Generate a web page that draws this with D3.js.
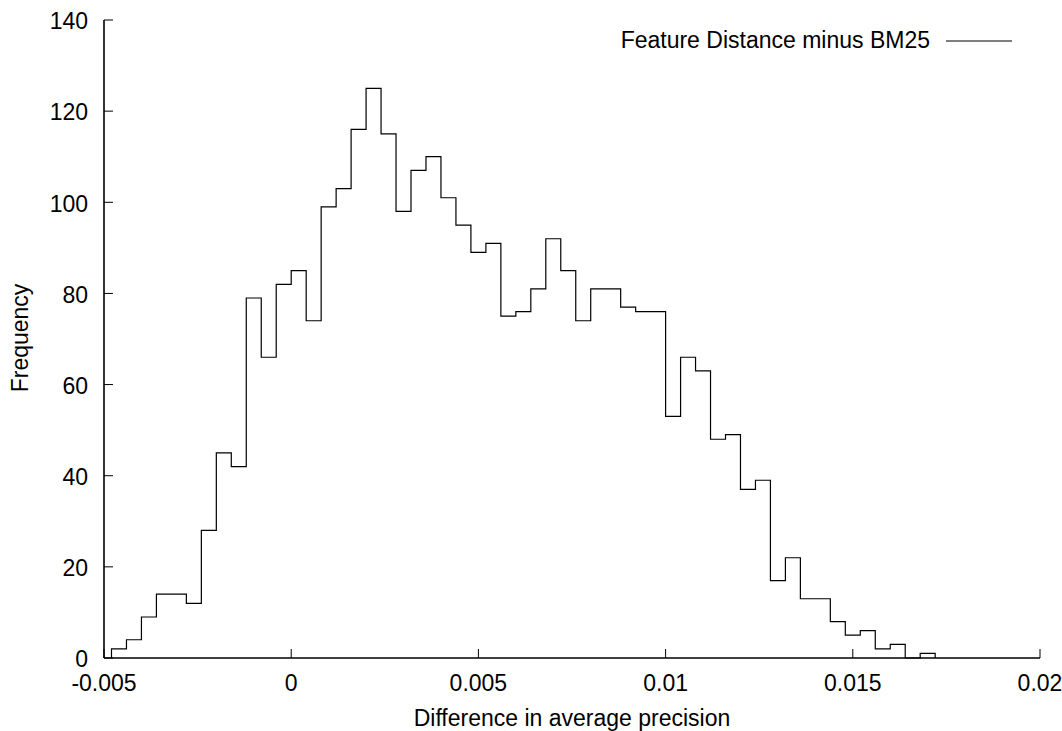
<!DOCTYPE html>
<html>
<head>
<meta charset="utf-8">
<script src="https://cdn.jsdelivr.net/npm/d3@7"></script>
<style>
  body { margin: 0; background: #fff; }
  svg text { font-family: "Liberation Sans", Arial, sans-serif; font-size: 23px; fill: #000; }
</style>
</head>
<body>
<svg id="mainSvg" width="1062" height="731"></svg>
<script>
// bin width and first bin start
const binWidth = 0.0004;
const firstBin = -0.0048;
// frequencies per bin
const counts = [2, 4, 9, 14, 14, 12, 28, 45, 42, 79, 66, 82, 85, 74, 99, 103, 116, 125, 115, 98,
    107, 110, 101, 95, 89, 91, 75, 76, 81, 92, 85, 74, 81, 81, 77, 76, 76, 53, 66, 63,
    48, 49, 37, 39, 17, 22, 13, 13, 8, 5, 6, 2, 3, 0, 1];
const xTicks = [-0.005, 0, 0.005, 0.01, 0.015, 0.02];
const yTicks = [0, 20, 40, 60, 80, 100, 120, 140];
const seriesName = "Feature Distance minus BM25";

let svg = d3.select('#mainSvg');
const mLeft = 104, mRight = 1040, mTop = 20, mBottom = 658;

const x = d3.scaleLinear().domain([-0.005, 0.02]).range([mLeft, mRight]);
const y = d3.scaleLinear().domain([0, 140]).range([mBottom, mTop]);

// axes: only left and bottom border
svg.append("line")
    .attr("x1", mLeft).attr("y1", mTop).attr("x2", mLeft).attr("y2", mBottom)
    .attr("stroke", "#000").attr("stroke-width", 1.6);
svg.append("line")
    .attr("x1", mLeft).attr("y1", mBottom).attr("x2", mRight).attr("y2", mBottom)
    .attr("stroke", "#000").attr("stroke-width", 1.6);

// y ticks (inward)
const yg = svg.append("g");
yg.selectAll("line").data(yTicks).join("line")
    .attr("x1", mLeft).attr("x2", mLeft + 9)
    .attr("y1", d => y(d)).attr("y2", d => y(d))
    .attr("stroke", "#000").attr("stroke-width", 1);
yg.selectAll("text").data(yTicks).join("text")
    .attr("x", 88)
    .attr("y", d => y(d) + 1)
    .attr("dy", "0.36em")
    .attr("text-anchor", "end")
    .text(d => d);

// x ticks (inward)
const xg = svg.append("g");
xg.selectAll("line").data(xTicks).join("line")
    .attr("x1", d => x(d)).attr("x2", d => x(d))
    .attr("y1", mBottom).attr("y2", mBottom - 9)
    .attr("stroke", "#000").attr("stroke-width", 1);
xg.selectAll("text").data(xTicks).join("text")
    .attr("x", d => x(d))
    .attr("y", 691)
    .attr("text-anchor", "middle")
    .text(d => d === 0 ? "0" : String(d));

// axis labels
svg.append("text")
    .attr("x", 572)
    .attr("y", 726)
    .attr("text-anchor", "middle")
    .text("Difference in average precision");
svg.append("text")
    .attr("transform", `translate(28,338) rotate(-90)`)
    .attr("text-anchor", "middle")
    .text("Frequency");

// histogram as steps
const pts = [[x(firstBin), y(0)]];
counts.forEach((c, i) => {
    const x0 = x(firstBin + i * binWidth), x1 = x(firstBin + (i + 1) * binWidth);
    pts.push([x0, y(c)], [x1, y(c)]);
});
pts.push([x(firstBin + counts.length * binWidth), y(0)]);
svg.append("path")
    .attr("d", d3.line()(pts))
    .attr("fill", "none")
    .attr("stroke", "#000")
    .attr("stroke-width", 1.2);

// legend
svg.append("text")
    .attr("x", 930)
    .attr("y", 48)
    .attr("text-anchor", "end")
    .text(seriesName);
svg.append("line")
    .attr("x1", 946).attr("x2", 1012)
    .attr("y1", 41).attr("y2", 41)
    .attr("stroke", "#000").attr("stroke-width", 1.2);
</script>
</body>
</html>
